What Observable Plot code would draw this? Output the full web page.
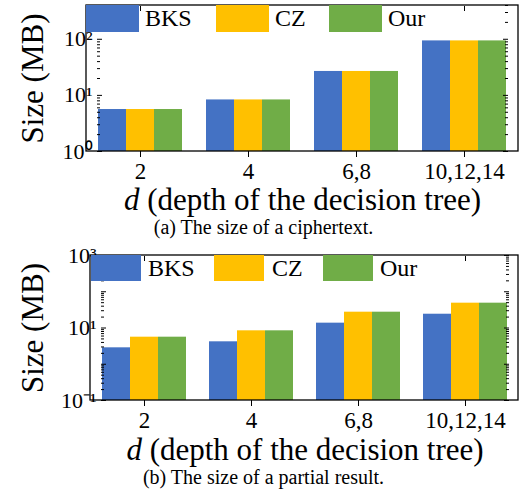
<!DOCTYPE html>
<html><head><meta charset="utf-8">
<script src="https://cdn.jsdelivr.net/npm/d3@7"></script>
<script src="https://cdn.jsdelivr.net/npm/@observablehq/plot@0.6"></script>
<style>
body{margin:0;background:#fff;font-family:"Liberation Serif","Times New Roman",serif;}
svg, svg text{font-family:"Liberation Serif","Times New Roman",serif !important;}
.fig{position:relative;width:527px;}
.cap{height:25px;line-height:25px;text-align:center;font-size:20px;color:#000;width:527px;}
.sw{position:absolute;}
.lb{position:absolute;font-size:24px;color:#000;white-space:nowrap;}
</style></head><body>
<div id="a" class="fig"></div><div class="cap">(a) The size of a ciphertext.</div>
<div id="b" class="fig"></div><div class="cap">(b) The size of a partial result.</div>
<script>
const depths = ["2", "4", "6,8", "10,12,14"];
const methods = ["BKS", "CZ", "Our"];
const colors = ["#4472C4", "#FFC000", "#70AD47"];

const cipherBKS = [5.6, 8.3, 26.7, 93.6];
const cipherCZ  = [5.6, 8.3, 26.7, 93.6];
const cipherOur = [5.6, 8.3, 26.7, 93.6];

const partialBKS = [2.84, 4.16, 13.6, 24.0];
const partialCZ  = [5.58, 8.36, 27.3, 48.4];
const partialOur = [5.58, 8.36, 27.3, 48.4];

const xLabel = "d (depth of the decision tree)";
const yLabel = "Size (MB)";

const FONT = "Liberation Serif";
const sup = {"-":"\u207B","0":"\u2070","1":"\u00B9","2":"\u00B2","3":"\u00B3"};
const fmtPow = v => "10" + String(Math.round(Math.log10(v))).split("").map(c => sup[c]).join("");

function minorTicks(lo, hi) {
  const out = [];
  for (let e = Math.floor(Math.log10(lo)); e <= Math.ceil(Math.log10(hi)); e++) {
    for (let k = 2; k <= 9; k++) { const v = k * Math.pow(10, e); if (v > lo && v <= hi) out.push(v); }
  }
  return out;
}

function chart(el, cfg) {
  const values = cfg.values;
  const data = depths.flatMap((d, i) => methods.map((m, j) => ({d, m, v: values[j][i]})));
  const [lo, hi] = cfg.yDomain;
  const majors = cfg.majors;
  const minors = minorTicks(lo, hi);
  const W = 527, mr = 9;
  const plot = Plot.plot({
    width: W, height: cfg.height,
    marginTop: cfg.marginTop, marginLeft: cfg.marginLeft, marginRight: mr, marginBottom: cfg.marginBottom,
    style: {fontFamily: FONT, background: "#fff", color: "#000", overflow: "visible"},
    fx: {domain: depths, paddingInner: 0.2, paddingOuter: 0.1, label: null},
    x: {domain: methods, padding: 0, axis: null},
    y: {type: "log", domain: cfg.yDomain, axis: null},
    color: {domain: methods, range: colors},
    marks: [
      Plot.barY(data, {fx: "d", x: "m", y1: lo, y2: "v", fill: "m"}),
      Plot.axisY({anchor: "left", ticks: cfg.labeled, tickSize: 0, tickPadding: 5, tickFormat: fmtPow, fontSize: 22, fontFamily: FONT, label: null}),
      Plot.axisY({anchor: "left", ticks: majors, tickSize: -5, tickFormat: () => "", label: null}),
      Plot.axisY({anchor: "left", ticks: minors, tickSize: -3, tickFormat: () => "", label: null}),
      Plot.axisY({anchor: "right", ticks: majors, tickSize: -5, tickFormat: () => "", label: null}),
      Plot.axisY({anchor: "right", ticks: minors, tickSize: -3, tickFormat: () => "", label: null}),
      Plot.axisY({anchor: "left", ticks: [], tickSize: 0, label: yLabel, labelAnchor: "center", labelArrow: "none", labelOffset: cfg.yLabelOffset, fontSize: 31, fontFamily: FONT}),
      Plot.axisFx({anchor: "bottom", tickSize: 6, tickPadding: 5, fontSize: 23, fontFamily: FONT, label: null}),
      Plot.axisFx({anchor: "top", tickSize: -5, tickFormat: () => "", label: null}),
      Plot.axisFx({anchor: "bottom", ticks: [], tickSize: 0, label: xLabel, labelAnchor: "center", labelArrow: "none", labelOffset: cfg.xLabelOffset, fontSize: 31, fontFamily: FONT})
    ]
  });
  const svg = d3.select(plot.tagName.toLowerCase() === "svg" ? plot : plot.querySelector("svg"));
  svg.selectAll("text").each(function() {
    if (this.textContent.trim().startsWith("d (depth")) {
      const t = d3.select(this);
      t.text(null);
      t.append("tspan").attr("font-style", "italic").text("d");
      t.append("tspan").text(" (depth of the decision tree)");
    }
  });
  svg.append("rect")
    .attr("x", cfg.marginLeft).attr("y", cfg.marginTop)
    .attr("width", W - cfg.marginLeft - mr).attr("height", cfg.height - cfg.marginTop - cfg.marginBottom)
    .attr("fill", "none").attr("stroke", "#000").attr("stroke-width", 1.3);
  el.appendChild(plot);
  methods.forEach((m, j) => {
    const sw = document.createElement("div");
    sw.className = "sw";
    Object.assign(sw.style, {left: cfg.legend.sw[j] + "px", top: cfg.legend.top + "px", width: cfg.legend.w + "px", height: cfg.legend.h + "px", background: colors[j]});
    el.appendChild(sw);
    const lb = document.createElement("div");
    lb.className = "lb";
    lb.textContent = m;
    Object.assign(lb.style, {left: cfg.legend.lb[j] + "px", top: cfg.legend.top + "px", height: cfg.legend.h + "px", lineHeight: cfg.legend.h + "px"});
    el.appendChild(lb);
  });
}

chart(document.getElementById("a"), {
  values: [cipherBKS, cipherCZ, cipherOur],
  yDomain: [1, 400], majors: [1, 10, 100], labeled: [1, 10, 100],
  height: 215, marginTop: 5, marginLeft: 86, marginBottom: 64,
  yLabelOffset: 77, xLabelOffset: 58,
  legend: {top: 5, w: 53, h: 27, sw: [86, 216, 329], lb: [145, 275, 388]}
});
chart(document.getElementById("b"), {
  values: [partialBKS, partialCZ, partialOur],
  yDomain: [0.1, 1000], majors: [0.1, 1, 10, 100, 1000], labeled: [0.1, 10, 1000],
  height: 225, marginTop: 15, marginLeft: 90, marginBottom: 65,
  yLabelOffset: 81, xLabelOffset: 59,
  legend: {top: 15, w: 50, h: 26, sw: [91, 214, 323], lb: [148, 272, 380]}
});
</script>
</body></html>
